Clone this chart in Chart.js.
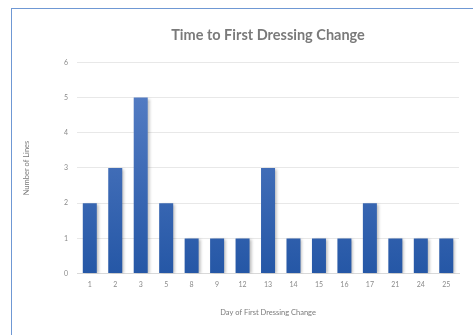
<!DOCTYPE html>
<html>
<head>
<meta charset="utf-8">
<script src="https://cdn.jsdelivr.net/npm/chart.js@4/dist/chart.umd.min.js"></script>
<style>
  html, body { margin: 0; padding: 0; background: #fff; overflow: hidden; }
  #wrap { position: relative; width: 473px; height: 335px; }
  #frame { position: absolute; left: 11px; top: 8px; width: 480px; height: 350px;
           border: 1px solid #6f98d4; box-sizing: border-box; pointer-events: none; }
  canvas { position: absolute; left: 0; top: 0; }
</style>
</head>
<body>
<div id="wrap">
  <canvas id="c" width="473" height="335"></canvas>
  <div id="frame"></div>
</div>
<script>
const days = ['1', '2', '3', '5', '8', '9', '12', '13', '14', '15', '16', '17', '21', '24', '25'];
const lineCounts = [2, 3, 5, 2, 1, 1, 1, 3, 1, 1, 1, 2, 1, 1, 1];
const yTicks = [0, 1, 2, 3, 4, 5, 6];

const FONT = 'Lato, "Open Sans", sans-serif';

function barGradient(ctx) {
  const area = ctx.chart.chartArea;
  if (!area) return '#3d68b5';
  const el = ctx.element;
  const top = el && el.y !== undefined ? el.y : area.top;
  const bottom = area.bottom;
  const g = ctx.chart.ctx.createLinearGradient(0, top, 0, bottom);
  g.addColorStop(0, '#5b82c8');
  g.addColorStop(1, '#2557a6');
  return g;
}

const barShadow = {
  id: 'barShadow',
  beforeDatasetsDraw(chart) {
    const c = chart.ctx;
    c.save();
    c.shadowColor = 'rgba(0,0,0,0.28)';
    c.shadowBlur = 3;
    c.shadowOffsetX = 2;
    c.shadowOffsetY = 1;
  },
  afterDatasetsDraw(chart) {
    chart.ctx.restore();
  }
};

new Chart(document.getElementById('c'), {
  type: 'bar',
  data: {
    labels: days,
    datasets: [{
      data: lineCounts,
      backgroundColor: barGradient,
      borderWidth: 0,
      categoryPercentage: 0.55,
      barPercentage: 1.0
    }]
  },
  plugins: [barShadow],
  options: {
    responsive: false,
    animation: false,
    layout: { padding: { left: 22, right: 14, top: 27, bottom: 18 } },
    plugins: {
      legend: { display: false },
      tooltip: { enabled: false },
      title: {
        display: true,
        fullSize: false,
        text: 'Time to First Dressing Change',
        color: '#7a7a7a',
        font: { family: FONT, size: 14.5, weight: 'bold' },
        padding: { top: 0, bottom: 18 }
      }
    },
    scales: {
      x: {
        grid: { display: false, drawTicks: false },
        border: { display: true, color: '#d9d9d9', width: 1 },
        ticks: { color: '#8a8a8a', font: { family: FONT, size: 7 }, padding: 7 },
        title: {
          display: true,
          text: 'Day of First Dressing Change',
          color: '#7a7a7a',
          font: { family: FONT, size: 7.5 },
          padding: { top: 12, bottom: 0 }
        }
      },
      y: {
        min: 0,
        max: 6,
        afterBuildTicks(axis) { axis.ticks = yTicks.map(v => ({ value: v })); },
        grid: { color: '#e8e8e8', lineWidth: 1, drawTicks: false },
        border: { display: false },
        ticks: { color: '#8a8a8a', font: { family: FONT, size: 7 }, padding: 9 },
        title: {
          display: true,
          text: 'Number of Lines',
          color: '#7a7a7a',
          font: { family: FONT, size: 7.5 },
          padding: { top: 0, bottom: 24 }
        }
      }
    }
  }
});
</script>
</body>
</html>
